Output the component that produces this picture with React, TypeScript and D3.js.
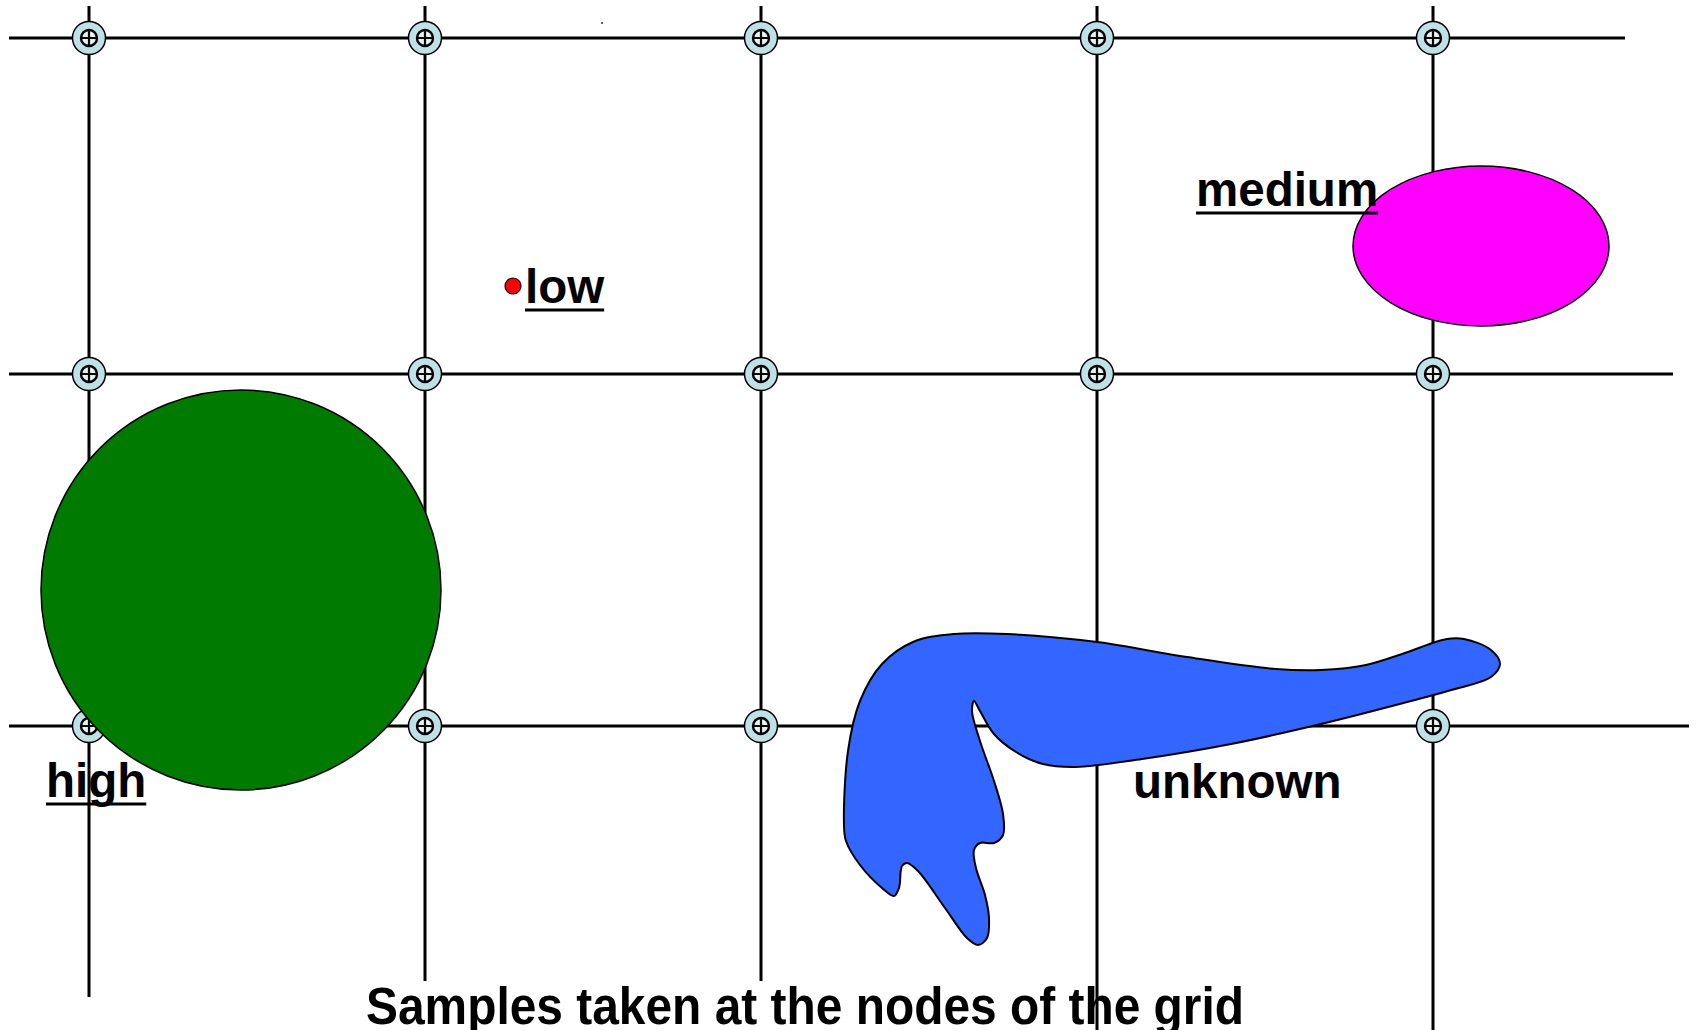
import * as d3 from "d3";
import { useEffect, useRef } from "react";

// field coordinates: origin at the top-left sampling node, one grid cell = 336 units
const gridCols = [0, 336, 672, 1008, 1344];
const gridRows = [0, 336, 688];
const rowStart = [-80, -80, -80];
const rowEnd = [1536, 1584, 1600];
const colStart = [-32, -32, -32, -32, -32];
const colEnd = [959, 943, 943, 1000, 1000];

// anomalies found in the field
const highZone = { cx: 152, cy: 552, r: 200 };
const mediumZone = { cx: 1392, cy: 208, rx: 128, ry: 80 };
const lowZone = { cx: 424, cy: 248, r: 8 };
const unknownZone: [number, number][] = [
  [755, 787], [759, 713], [771, 663], [793, 626], [824, 604], [865, 596], [918, 596],
  [1008, 604], [1098, 619], [1187, 631], [1232, 632], [1277, 627], [1313, 616],
  [1358, 601], [1375, 601], [1402, 612], [1411, 626], [1402, 639], [1366, 651],
  [1322, 663], [1232, 686], [1142, 706], [1053, 721], [986, 729], [954, 726],
  [927, 714], [905, 696], [891, 673], [885, 663], [883, 673], [891, 703], [905, 743],
  [914, 776], [914, 797], [905, 805], [891, 805], [885, 812], [887, 830], [896, 857],
  [900, 880], [898, 900], [889, 907], [878, 900], [856, 870], [829, 833], [818, 825],
  [813, 828], [810, 850], [805, 858], [793, 850], [771, 827], [757, 803],
];

const labels = [
  { text: "medium", x: 1107, y: 168, underline: true },
  { text: "low", x: 436, y: 265, underline: true },
  { text: "high", x: -43, y: 759, underline: true },
  { text: "unknown", x: 1044, y: 760, underline: false },
];
const title = "Samples taken at the nodes of the grid";

export default function App() {
  const svgRef = useRef<SVGSVGElement>(null);
  const width = 1699;
  const height = 1030;

  useEffect(() => {
    const svg = d3.select(svgRef.current);
    svg.selectAll("*").remove();

    const x = d3.scaleLinear([0, 1344], [89, 1433]);
    const y = d3.scaleLinear([0, 688], [38, 726]);

    // grid lines
    svg.append("g").selectAll("line")
      .data(gridRows)
      .join("line")
        .attr("x1", (d, i) => x(rowStart[i]))
        .attr("x2", (d, i) => x(rowEnd[i]))
        .attr("y1", d => y(d))
        .attr("y2", d => y(d))
        .attr("stroke", "#000")
        .attr("stroke-width", 3);

    svg.append("g").selectAll("line")
      .data(gridCols)
      .join("line")
        .attr("x1", d => x(d))
        .attr("x2", d => x(d))
        .attr("y1", (d, i) => y(colStart[i]))
        .attr("y2", (d, i) => y(colEnd[i]))
        .attr("stroke", "#000")
        .attr("stroke-width", 3);

    // sampling nodes
    const nodes = gridRows.flatMap(r => gridCols.map(c => ({ c, r })));
    const node = svg.append("g").selectAll("g")
      .data(nodes)
      .join("g")
        .attr("transform", d => `translate(${x(d.c)},${y(d.r)})`);
    node.append("circle")
      .attr("r", 16.5)
      .attr("fill", "#bfe1e5")
      .attr("stroke", "#000")
      .attr("stroke-width", 1.5);
    node.append("circle")
      .attr("r", 8)
      .attr("fill", "#e4f3f4")
      .attr("stroke", "#000")
      .attr("stroke-width", 2.4);
    node.append("path")
      .attr("d", "M-7.5,0H7.5M0,-7.5V7.5")
      .attr("stroke", "#000")
      .attr("stroke-width", 2.2);

    // tiny speck near the top edge
    svg.append("rect")
      .attr("x", x(512)).attr("y", y(-16))
      .attr("width", 2).attr("height", 2)
      .attr("fill", "#666");

    // zones
    svg.append("circle")
      .attr("cx", x(highZone.cx))
      .attr("cy", y(highZone.cy))
      .attr("r", x(highZone.r) - x(0))
      .attr("fill", "#007a00")
      .attr("stroke", "#000")
      .attr("stroke-width", 1.5);

    svg.append("ellipse")
      .attr("cx", x(mediumZone.cx))
      .attr("cy", y(mediumZone.cy))
      .attr("rx", x(mediumZone.rx) - x(0))
      .attr("ry", y(mediumZone.ry) - y(0))
      .attr("fill", "#ff00ff")
      .attr("stroke", "#000")
      .attr("stroke-width", 1.5);

    const blob = d3.line<[number, number]>()
      .x(d => x(d[0]))
      .y(d => y(d[1]))
      .curve(d3.curveCatmullRomClosed.alpha(0.5));
    svg.append("path")
      .attr("d", blob(unknownZone))
      .attr("fill", "#3366ff")
      .attr("stroke", "#000")
      .attr("stroke-width", 2);

    svg.append("circle")
      .attr("cx", x(lowZone.cx))
      .attr("cy", y(lowZone.cy))
      .attr("r", x(lowZone.r) - x(0))
      .attr("fill", "#ff0000")
      .attr("stroke", "#000")
      .attr("stroke-width", 1.2);

    // labels
    const font = "'Liberation Sans', Arial, sans-serif";
    labels.forEach(l => {
      const t = svg.append("text")
        .attr("x", x(l.x))
        .attr("y", y(l.y))
        .attr("font-family", font)
        .attr("font-weight", "bold")
        .attr("font-size", 47.5)
        .attr("fill", "#000")
        .text(l.text);
      if (l.underline) {
        const len = (t.node() as SVGTextElement).getComputedTextLength();
        svg.append("line")
          .attr("x1", x(l.x))
          .attr("x2", x(l.x) + len)
          .attr("y1", y(l.y) + 7)
          .attr("y2", y(l.y) + 7)
          .attr("stroke", "#000")
          .attr("stroke-width", 3);
      }
    });

    svg.append("text")
      .attr("x", x(277))
      .attr("y", y(986))
      .attr("font-family", font)
      .attr("font-weight", "bold")
      .attr("font-size", 51)
      .attr("textLength", 878)
      .attr("lengthAdjust", "spacingAndGlyphs")
      .attr("fill", "#000")
      .text(title);
  }, []);

  return (
    <svg
      ref={svgRef}
      width={width}
      height={height}
      viewBox={`0 0 ${width} ${height}`}
      style={{ position: "absolute", left: 0, top: 0, background: "#fff" }}
      xmlns="http://www.w3.org/2000/svg"
    />
  );
}
